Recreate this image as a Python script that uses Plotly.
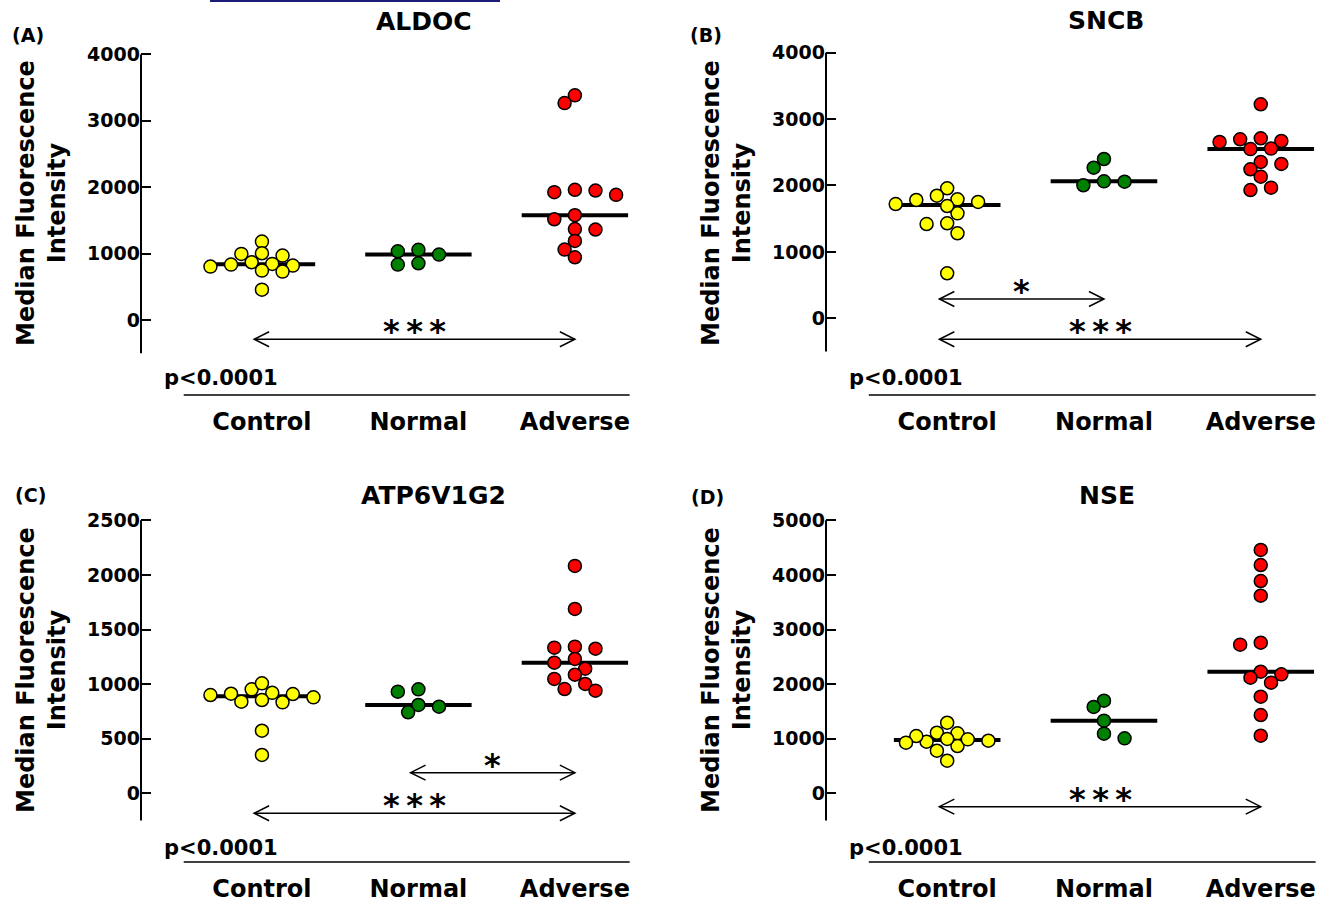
import numpy as np
import plotly.graph_objects as go

# ---------------- data ----------------
CATEGORIES = ["Control", "Normal", "Adverse"]

ALDOC_CONTROL = [1181, 1005, 995, 970, 869, 845, 834, 819, 804, 744, 729, 457]
ALDOC_NORMAL = [1056, 985, 834, 854, 1035]
ALDOC_ADVERSE = [3383, 3267, 1950, 1885, 1925, 1961, 1578, 1517, 1362, 1370, 1191, 1060, 944]

SNCB_CONTROL = [1792, 1581, 1752, 1958, 1420, 1691, 678, 1846, 1280, 1721, 1431, 1782]
SNCB_NORMAL = [2063, 2003, 2057, 2399, 2268]
SNCB_ADVERSE = [3223, 2696, 2655, 2670, 2711, 2556, 2548, 2354, 2324, 2244, 2133, 1932, 1967]

ATP_CONTROL = [920, 854, 900, 833, 952, 1007, 909, 839, 912, 879, 573, 351]
ATP_NORMAL = [952, 931, 809, 793, 742]
ATP_ADVERSE = [2082, 1688, 1324, 1334, 1343, 1230, 1196, 1141, 1086, 1047, 1001, 940, 955]

NSE_CONTROL = [1293, 1099, 866, 945, 989, 597, 1110, 963, 995, 780, 1049, 927]
NSE_NORMAL = [1696, 1581, 1330, 1092, 1007]
NSE_ADVERSE = [4456, 4181, 3888, 3619, 2758, 2722, 2179, 2227, 2117, 2026, 1769, 1434, 1055]

TITLES = ["ALDOC", "SNCB", "ATP6V1G2", "NSE"]
PANEL_LABELS = ["(A)", "(B)", "(C)", "(D)"]
TICKS_A = [0, 1000, 2000, 3000, 4000]
TICKS_B = [0, 1000, 2000, 3000, 4000]
TICKS_C = [0, 500, 1000, 1500, 2000, 2500]
TICKS_D = [0, 1000, 2000, 3000, 4000, 5000]
P_TEXT = "p<0.0001"
Y_TITLE = "Median Fluorescence<br>Intensity"

# significance comparisons: (label, group_from, group_to, y value of arrow)
SIG_A = [("***", 0, 2, -290)]
SIG_B = [("*", 0, 1, 291), ("***", 0, 2, -316)]
SIG_C = [("*", 1, 2, 189), ("***", 0, 2, -183)]
SIG_D = [("***", 0, 2, -245)]

COLORS = ["#FFFF00", "#008000", "#FF0000"]

# ---------------- layout geometry (pixels) ----------------
W, H = 1341, 904
FONT = "DejaVu Sans"

panels = [
    dict(groups=[ALDOC_CONTROL, ALDOC_NORMAL, ALDOC_ADVERSE], ticks=TICKS_A, sig=SIG_A,
         xpx=(141, 650), ypx=(40, 395), yr=(-1130, 4217), axis_min=-500,
         title_pos=(424, 22), label_pos=(28, 35), ytitle_pos=(41, 203), p_pos=(162, 378)),
    dict(groups=[SNCB_CONTROL, SNCB_NORMAL, SNCB_ADVERSE], ticks=TICKS_B, sig=SIG_B,
         xpx=(826, 1336), ypx=(40, 395), yr=(-1155, 4191), axis_min=-500,
         title_pos=(1106, 20), label_pos=(706, 35), ytitle_pos=(726, 203), p_pos=(847, 378)),
    dict(groups=[ATP_CONTROL, ATP_NORMAL, ATP_ADVERSE], ticks=TICKS_C, sig=SIG_C,
         xpx=(141, 650), ypx=(505, 862), yr=(-629, 2640), axis_min=-250,
         title_pos=(433, 495), label_pos=(30, 495), ytitle_pos=(41, 670), p_pos=(162, 848)),
    dict(groups=[NSE_CONTROL, NSE_NORMAL, NSE_ADVERSE], ticks=TICKS_D, sig=SIG_D,
         xpx=(826, 1336), ypx=(505, 862), yr=(-1258, 5280), axis_min=-500,
         title_pos=(1107, 495), label_pos=(707, 497), ytitle_pos=(726, 670), p_pos=(847, 848)),
]
XR = (-0.773, 2.48)
MARK = 13
SLOT_PX = 10.3
DMIN_PX = 11.5


def px2paper_x(px):
    return px / W


def px2paper_y(py):
    return 1 - py / H


def swarm(vals, ypx_per_unit, xpx_per_unit):
    vals = np.asarray(vals, dtype=float)
    order = np.argsort(-vals)
    placed = []
    offs = np.zeros(len(vals))
    for i in order:
        y = vals[i] * ypx_per_unit
        neg = sum(1 for k, _ in placed if k < 0)
        pos = sum(1 for k, _ in placed if k > 0)
        cands = [0]
        for m in range(1, 12):
            cands += ([-m, m] if neg <= pos else [m, -m])
        for k in cands:
            ok = all(((k - kj) * SLOT_PX) ** 2 + (y - yj) ** 2 >= DMIN_PX ** 2 for kj, yj in placed)
            if ok:
                break
        placed.append((k, y))
        offs[i] = k * SLOT_PX / xpx_per_unit
    return offs


fig = go.Figure()
shapes = []
annotations = []

for idx, p in enumerate(panels):
    n = "" if idx == 0 else str(idx + 1)
    xa, ya = "x" + n, "y" + n
    x0p, x1p = p["xpx"]
    y0p, y1p = p["ypx"]
    xppu = (x1p - x0p) / (XR[1] - XR[0])
    yppu = (y1p - y0p) / (p["yr"][1] - p["yr"][0])

    for g, vals in enumerate(p["groups"]):
        med = float(np.median(vals))
        fig.add_trace(go.Scatter(x=[g - 0.34, g + 0.34], y=[med, med], mode="lines",
                                 line=dict(color="black", width=4), xaxis=xa, yaxis=ya,
                                 showlegend=False, hoverinfo="skip"))
        offs = swarm(vals, yppu, xppu)
        fig.add_trace(go.Scatter(x=g + offs, y=vals, mode="markers",
                                 marker=dict(size=MARK, color=COLORS[g],
                                             line=dict(color="black", width=1.5)),
                                 xaxis=xa, yaxis=ya, showlegend=False,
                                 name=CATEGORIES[g]))

    fig.layout["xaxis" + n] = dict(
        domain=[px2paper_x(x0p), px2paper_x(x1p)], range=list(XR), anchor=ya,
        showgrid=False, zeroline=False, showline=False, ticks="",
        tickvals=[0, 1, 2], ticktext=CATEGORIES,
        tickfont=dict(family=FONT, size=24, color="black", weight="bold"),
        ticklabelstandoff=10,
    )
    fig.layout["yaxis" + n] = dict(
        domain=[px2paper_y(y1p), px2paper_y(y0p)], range=list(p["yr"]), anchor=xa,
        showgrid=False, zeroline=False, showline=False, ticks="inside", ticklen=10,
        tickwidth=1.5, tickcolor="black", tickvals=p["ticks"],
        ticktext=[str(t) for t in p["ticks"]],
        tickfont=dict(family=FONT, size=19, color="black", weight="bold"),
    )

    # y axis line
    shapes.append(dict(type="line", xref=xa + " domain", yref=ya, x0=0, x1=0,
                       y0=p["axis_min"], y1=p["ticks"][-1], line=dict(color="black", width=2)))
    # x axis line
    shapes.append(dict(type="line", xref=xa, yref=ya + " domain", x0=-0.5, x1=2.35,
                       y0=0, y1=0, line=dict(color="black", width=1.5)))

    # significance arrows
    dx = 15 / xppu
    dy = 7.5 / yppu
    for lab, gi, gj, yv in p["sig"]:
        xa0, xa1 = gi - 0.05, gj + 0.0
        shapes.append(dict(type="line", xref=xa, yref=ya, x0=xa0, x1=xa1, y0=yv, y1=yv,
                           line=dict(color="black", width=1.5)))
        shapes.append(dict(type="path", xref=xa, yref=ya,
                           path=f"M {xa0+dx},{yv+dy} L {xa0},{yv} L {xa0+dx},{yv-dy}",
                           line=dict(color="black", width=1.5)))
        shapes.append(dict(type="path", xref=xa, yref=ya,
                           path=f"M {xa1-dx},{yv+dy} L {xa1},{yv} L {xa1-dx},{yv-dy}",
                           line=dict(color="black", width=1.5)))
        annotations.append(dict(xref=xa, yref=ya, x=(xa0 + xa1) / 2, y=yv,
                                text="\u2009".join(lab), showarrow=False,
                                yanchor="middle", xanchor="center", yshift=8,
                                font=dict(family=FONT, size=32, color="black", weight="bold")))

    # title, panel label, y title, p value
    tx, ty = p["title_pos"]
    annotations.append(dict(xref="paper", yref="paper", x=px2paper_x(tx), y=px2paper_y(ty),
                            text=TITLES[idx], showarrow=False, xanchor="center", yanchor="middle",
                            font=dict(family=FONT, size=25, color="black", weight="bold")))
    lx, ly = p["label_pos"]
    annotations.append(dict(xref="paper", yref="paper", x=px2paper_x(lx), y=px2paper_y(ly),
                            text=PANEL_LABELS[idx], showarrow=False, xanchor="center", yanchor="middle",
                            font=dict(family=FONT, size=19, color="black", weight="bold")))
    yx, yy = p["ytitle_pos"]
    annotations.append(dict(xref="paper", yref="paper", x=px2paper_x(yx), y=px2paper_y(yy),
                            text=Y_TITLE, showarrow=False, xanchor="center", yanchor="middle",
                            textangle=-90,
                            font=dict(family=FONT, size=24, color="black", weight="bold")))
    px_, py_ = p["p_pos"]
    annotations.append(dict(xref="paper", yref="paper", x=px2paper_x(px_), y=px2paper_y(py_),
                            text=P_TEXT, showarrow=False, xanchor="left", yanchor="middle",
                            font=dict(family=FONT, size=21, color="black", weight="bold")))

# link underline remnant at the very top
shapes.append(dict(type="line", xref="paper", yref="paper", x0=210 / W, x1=500 / W,
                   y0=1 - 1 / H, y1=1 - 1 / H, line=dict(color="#1c1c78", width=2)))

fig.update_layout(width=W, height=H, margin=dict(l=0, r=0, t=0, b=0),
                  paper_bgcolor="white", plot_bgcolor="white",
                  shapes=shapes, annotations=annotations, showlegend=False)
fig.write_html("out.html")
